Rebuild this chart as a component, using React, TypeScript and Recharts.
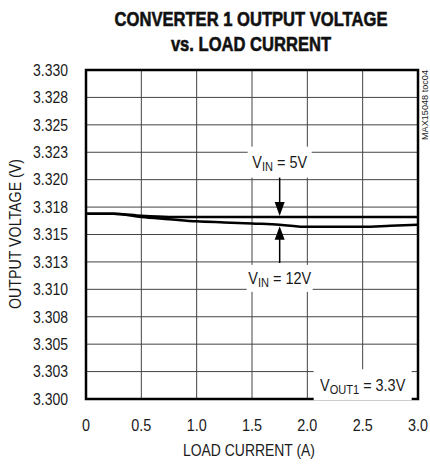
import {
  LineChart,
  Line,
  XAxis,
  YAxis,
  CartesianGrid,
  ReferenceArea,
  ReferenceDot,
  ReferenceLine,
} from "recharts";

const FONT = "'Liberation Sans', Arial, sans-serif";

// load current (A)
const current = [0, 0.25, 0.5, 0.75, 1.0, 1.25, 1.5, 1.75, 2.0, 2.25, 2.5, 2.75, 3.0];
// output voltage (V) for each input voltage
const vin5 = [3.3169, 3.3169, 3.3167, 3.3166, 3.3166, 3.3166, 3.3166, 3.3166, 3.3166, 3.3166, 3.3166, 3.3166, 3.3166];
const vin12 = [3.3169, 3.3169, 3.3166, 3.3164, 3.3162, 3.3161, 3.316, 3.3159, 3.3157, 3.3157, 3.3157, 3.3158, 3.3159];

const xTicks = [0, 0.5, 1.0, 1.5, 2.0, 2.5, 3.0];
const xTickLabels = ["0", "0.5", "1.0", "1.5", "2.0", "2.5", "3.0"];
const yTicks = [3.3, 3.3025, 3.305, 3.3075, 3.31, 3.3125, 3.315, 3.3175, 3.32, 3.3225, 3.325, 3.3275, 3.33];
const yTickLabels = ["3.300", "3.303", "3.305", "3.308", "3.310", "3.313", "3.315", "3.318", "3.320", "3.323", "3.325", "3.328", "3.330"];

const chartData = current.map((c, i) => ({ current: c, v5: vin5[i], v12: vin12[i] }));

// condensed look: squeeze the text to the width measured on the original
const Narrow = ({ x, y, w, size, weight = 400, anchor = "middle", children }: any) => (
  <text
    x={x}
    y={y}
    textAnchor={anchor}
    textLength={w}
    lengthAdjust="spacingAndGlyphs"
    fontFamily={FONT}
    fontSize={size}
    fontWeight={weight}
    fill="#1a1a1a"
  >
    {children}
  </text>
);

// bold title, squeezed horizontally with a transform
const Title = ({ x, y, sx, children }: any) => (
  <g transform={`translate(${x} ${y}) scale(${sx} 1)`}>
    <text
      x={0}
      y={0}
      textAnchor="middle"
      fontFamily={FONT}
      fontSize={21}
      fontWeight={700}
      fill="#111"
      stroke="#111"
      strokeWidth={0.6}
    >
      {children}
    </text>
  </g>
);

const XTick = ({ x, y, index }: any) => {
  const label = xTickLabels[index];
  return (
    <Narrow x={x} y={y + 29.5} w={label.length === 1 ? 8 : 20} size={16}>
      {label}
    </Narrow>
  );
};

const YTick = ({ x, y, index }: any) => (
  <Narrow x={x} y={y + 5.8} w={35} size={16} anchor="end">
    {yTickLabels[index]}
  </Narrow>
);

// white box with "V<sub>" label, used for the annotations
const boxLabel = (sub: string, rest: string, w: number, h: number) => (p: any) => (
  <g>
    <rect x={p.cx - w / 2} y={p.cy - h / 2} width={w} height={h} fill="#fff" />
    <g transform={`translate(${p.cx} ${p.cy + 6}) scale(0.85 1)`}>
      <text x={0} y={0} textAnchor="middle" fontFamily={FONT} fontSize={17} fill="#1a1a1a">
        V
        <tspan fontSize={13} dy={3}>{sub}</tspan>
        <tspan dy={-3}>{rest}</tspan>
      </text>
    </g>
  </g>
);

const arrowDown = (p: any) => (
  <polygon points={`${p.cx},${p.cy - 1} ${p.cx - 5},${p.cy - 15} ${p.cx + 5},${p.cy - 15}`} fill="#000" />
);
const arrowUp = (p: any) => (
  <polygon points={`${p.cx},${p.cy + 1.5} ${p.cx - 5},${p.cy + 15} ${p.cx + 5},${p.cy + 15}`} fill="#000" />
);

export default function App() {
  return (
    <div style={{ position: "absolute", left: 0, top: 0, background: "#fff" }}>
      <LineChart
        width={430}
        height={464}
        data={chartData}
        margin={{ top: 70, right: 12, bottom: 35, left: 26 }}
      >
        <CartesianGrid stroke="#444" strokeWidth={1} />
        <XAxis
          dataKey="current"
          type="number"
          domain={[0, 3]}
          ticks={xTicks}
          height={30}
          axisLine={false}
          tickLine={false}
          tickSize={0}
          tick={<XTick />}
        />
        <YAxis
          type="number"
          domain={[3.3, 3.33]}
          ticks={yTicks}
          width={60}
          axisLine={false}
          tickLine={false}
          tickSize={0}
          tickMargin={18}
          tick={<YTick />}
        />

        {/* annotation boxes hide the grid behind the text */}
        <ReferenceDot x={1.75} y={3.3216} r={0} shape={boxLabel("IN", " = 5V", 64, 31)} />
        <ReferenceDot x={1.75} y={3.311} r={0} shape={boxLabel("IN", " = 12V", 66, 27)} />
        <ReferenceDot x={2.5} y={3.3013} r={0} shape={boxLabel("OUT1", " = 3.3V", 98, 31)} />

        <ReferenceLine
          segment={[{ x: 1.75, y: 3.3206 }, { x: 1.75, y: 3.3178 }]}
          stroke="#000"
          strokeWidth={1.5}
        />
        <ReferenceDot x={1.75} y={3.3166} r={0} shape={arrowDown} />
        <ReferenceLine
          segment={[{ x: 1.75, y: 3.3147 }, { x: 1.75, y: 3.3124 }]}
          stroke="#000"
          strokeWidth={1.5}
        />
        <ReferenceDot x={1.75} y={3.3159} r={0} shape={arrowUp} />

        <Line type="monotone" dataKey="v5" stroke="#000" strokeWidth={2.5} dot={false} isAnimationActive={false} />
        <Line type="monotone" dataKey="v12" stroke="#000" strokeWidth={2.5} dot={false} isAnimationActive={false} />

        <ReferenceArea x1={0} x2={3} y1={3.3} y2={3.33} fill="none" stroke="#000" strokeWidth={2.5} />

        <Title x={251} y={25.5} sx={0.79}>
          CONVERTER 1 OUTPUT VOLTAGE
        </Title>
        <Title x={251} y={50.5} sx={0.79}>
          vs. LOAD CURRENT
        </Title>
        <Narrow x={249} y={456} w={132} size={16}>
          LOAD CURRENT (A)
        </Narrow>
        <g transform="translate(21 234) rotate(-90)">
          <Narrow x={0} y={0} w={150} size={16}>
            OUTPUT VOLTAGE (V)
          </Narrow>
        </g>
        <g transform="translate(428 105) rotate(-90)">
          <Narrow x={0} y={0} w={70} size={9.5}>
            MAX15048 toc04
          </Narrow>
        </g>
      </LineChart>
    </div>
  );
}
